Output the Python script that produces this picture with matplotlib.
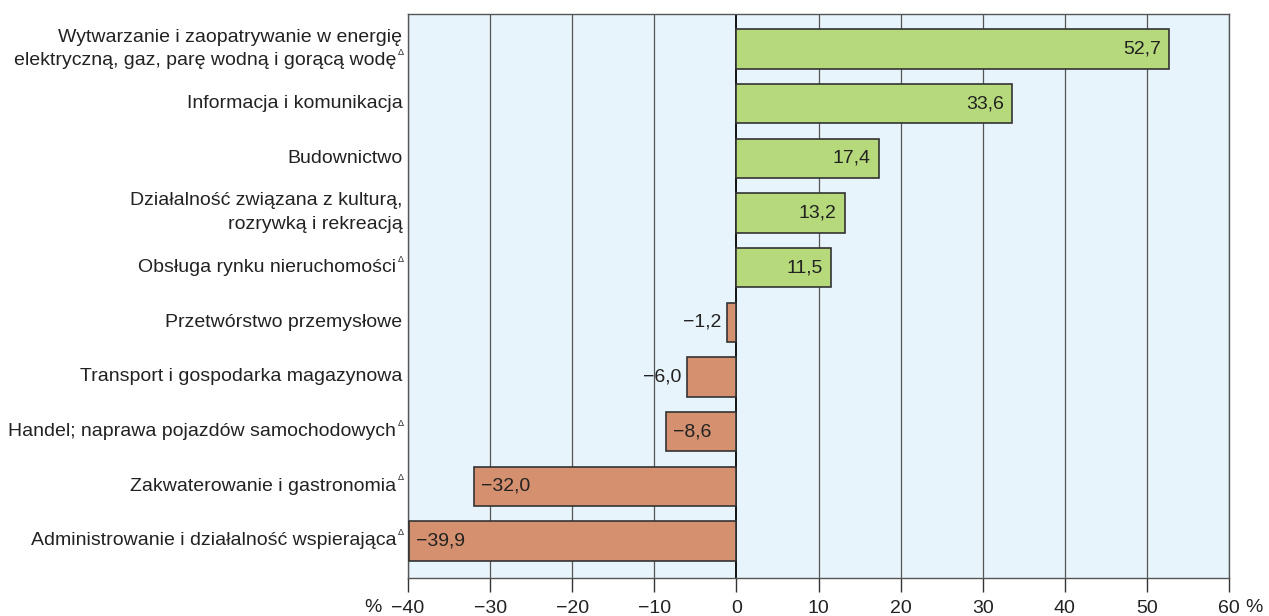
import matplotlib
matplotlib.use("Agg")
import matplotlib.pyplot as plt

plt.rcParams['font.family'] = ['Liberation Sans', 'DejaVu Sans']

categories = [
    "Wytwarzanie i zaopatrywanie w energię\nelektryczną, gaz, parę wodną i gorącą wodę",
    "Informacja i komunikacja",
    "Budownictwo",
    "Działalność związana z kulturą,\nrozrywką i rekreacją",
    "Obsługa rynku nieruchomości",
    "Przetwórstwo przemysłowe",
    "Transport i gospodarka magazynowa",
    "Handel; naprawa pojazdów samochodowych",
    "Zakwaterowanie i gastronomia",
    "Administrowanie i działalność wspierająca",
]
delta_mark = [True, False, False, False, True, False, False, True, True, True]
values = [52.7, 33.6, 17.4, 13.2, 11.5, -1.2, -6.0, -8.6, -32.0, -39.9]
xticks = [-40, -30, -20, -10, 0, 10, 20, 30, 40, 50, 60]
xtick_labels = ["−40", "−30", "−20", "−10", "0", "10", "20", "30", "40", "50", "60"]

GREEN = "#B6D97B"
SALMON = "#D4906F"
BG = "#E8F4FB"
EDGE = "#333333"
TXT = "#222222"
FS = 14

fig = plt.figure(figsize=(12.69, 6.16), dpi=100)
ax = fig.add_axes([408/1269, 1 - 578/616, (1229-408)/1269, (578-14)/616])
ax.set_facecolor(BG)

ypos = list(range(len(values)))
colors = [GREEN if v >= 0 else SALMON for v in values]

for x in xticks:
    ax.axvline(x, color="#555555" if x != 0 else "#111111",
               lw=0.9 if x != 0 else 1.4, zorder=1)

ax.barh(ypos, values, height=0.72, color=colors, edgecolor=EDGE, linewidth=1.2, zorder=3)

ax.set_xlim(-40, 60)
ax.set_ylim(9.68, -0.64)

ax.set_xticks(xticks)
ax.set_xticklabels(xtick_labels, fontsize=FS, color=TXT)
ax.tick_params(axis='x', direction='out', length=10, width=1.0, color="#333333", pad=5.5)
ax.set_yticks([])
for s in ax.spines.values():
    s.set_color("#555555")
    s.set_linewidth(1.0)

# % signs on axis ends
ax.annotate("%", xy=(0, 0), xycoords='axes fraction', xytext=(-19, -21.5),
            textcoords='offset points', ha='right', va='center', fontsize=FS, color=TXT)
ax.annotate("%", xy=(1, 0), xycoords='axes fraction', xytext=(12, -21.5),
            textcoords='offset points', ha='left', va='center', fontsize=FS, color=TXT)

# category labels (each line drawn separately; delta mark follows the last line)
LINE_OFF = 8.6  # points from centre for two-line labels
for i, (lab, dm) in enumerate(zip(categories, delta_mark)):
    lines = lab.split("\n")
    n = len(lines)
    for k, line in enumerate(lines):
        dy = 0 if n == 1 else (LINE_OFF if k == 0 else -LINE_OFF)
        last = (k == n - 1)
        off = -8.5 if (dm and last) else -4
        ax.annotate(line, xy=(0, i), xycoords=('axes fraction', 'data'),
                    xytext=(off, dy), textcoords='offset points', ha='right', va='center',
                    fontsize=FS, color=TXT)
        if dm and last:
            ax.annotate("Δ", xy=(0, i), xycoords=('axes fraction', 'data'),
                        xytext=(-3, dy + 6), textcoords='offset points',
                        ha='right', va='center', fontsize=6.5, color=TXT)

# value labels
for i, v in enumerate(values):
    s = f"{abs(v):.1f}".replace(".", ",")
    if v < 0:
        s = "−" + s
    if v >= 0:
        ax.annotate(s, xy=(v, i), xytext=(-6, 0), textcoords='offset points',
                    ha='right', va='center', fontsize=FS, color=TXT, zorder=4)
    elif abs(v) >= 8:
        ax.annotate(s, xy=(v, i), xytext=(5, 0), textcoords='offset points',
                    ha='left', va='center', fontsize=FS, color=TXT, zorder=4)
    else:
        ax.annotate(s, xy=(v, i), xytext=(-4, 0), textcoords='offset points',
                    ha='right', va='center', fontsize=FS, color=TXT, zorder=4)

fig.savefig("out.png", dpi=100)
